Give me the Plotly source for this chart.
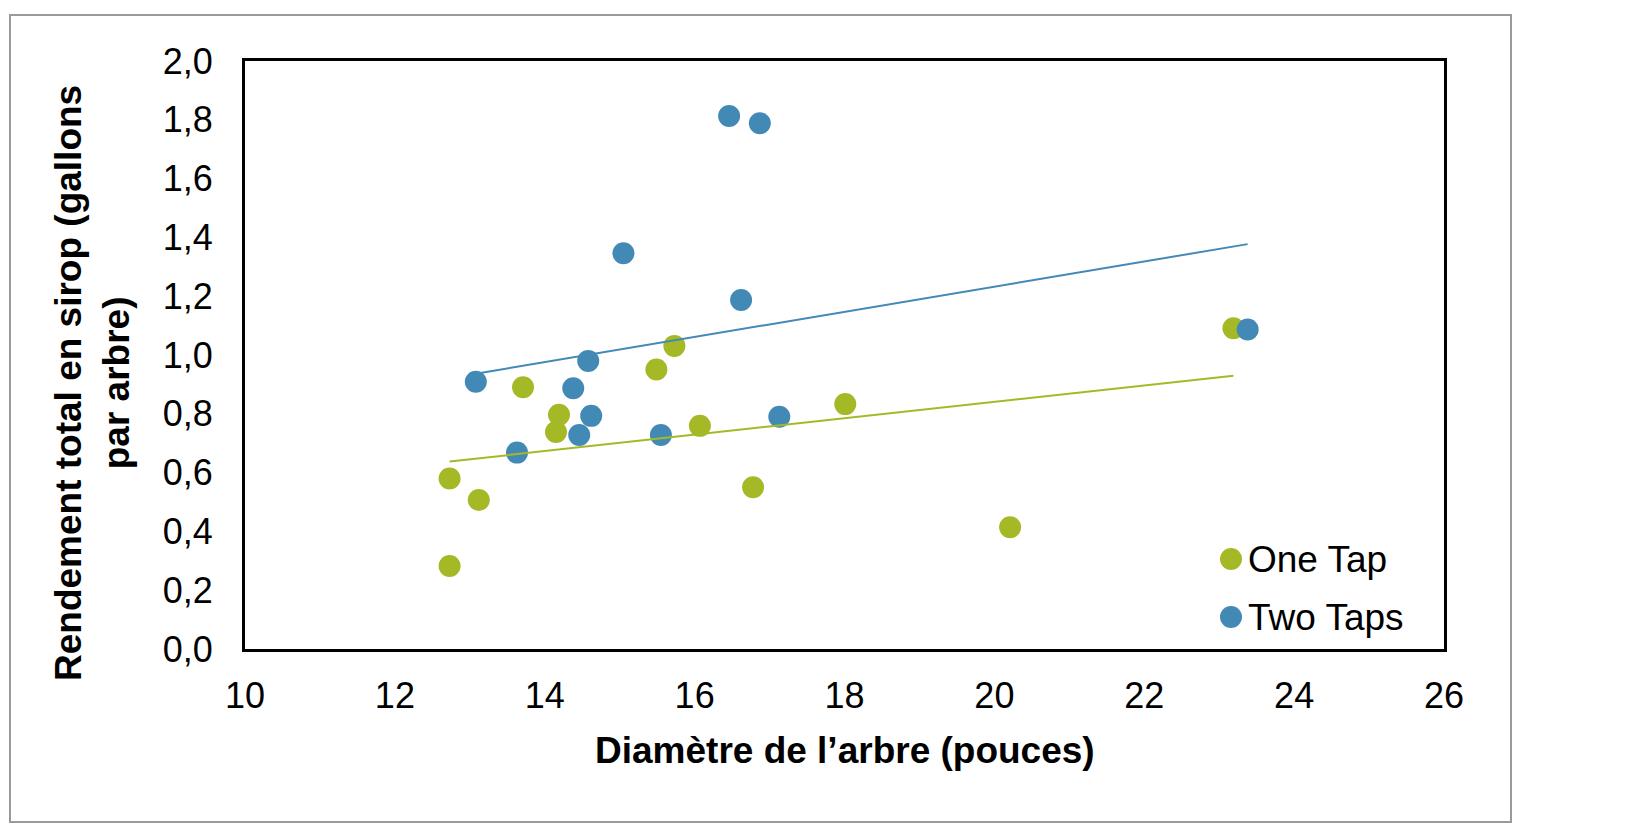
import numpy as np
import plotly.graph_objects as go

# ---- data ----
one_tap_diameter = [12.73, 12.73, 13.12, 13.71, 14.19, 14.15, 15.49, 15.73, 16.07, 16.78, 18.01, 20.21, 23.19]
one_tap_yield = [0.282, 0.580, 0.507, 0.890, 0.797, 0.738, 0.951, 1.031, 0.759, 0.550, 0.833, 0.414, 1.091]
two_taps_diameter = [13.08, 13.63, 14.38, 14.46, 14.58, 14.62, 15.05, 15.55, 16.46, 16.87, 16.62, 17.13, 23.38]
two_taps_yield = [0.909, 0.668, 0.887, 0.728, 0.980, 0.793, 1.346, 0.728, 1.813, 1.788, 1.187, 0.790, 1.087]

series_names = ["One Tap", "Two Taps"]
series_colors = ["#A5B927", "#4389B5"]
x_ticks = [10, 12, 14, 16, 18, 20, 22, 24, 26]
y_ticks = [0.0, 0.2, 0.4, 0.6, 0.8, 1.0, 1.2, 1.4, 1.6, 1.8, 2.0]

FONT = "Liberation Sans, Arial, sans-serif"

# page body has an 8px margin; figure sized to fit the window
OFF = 8
W, H = 1650 - OFF, 831 - OFF
# plot area in absolute screen pixels: x 245..1444, y 61..649
ML, MR, MT, MB = 245 - OFF, 1650 - 1444, 61 - OFF, 831 - 649
PW = W - ML - MR
PH = H - MT - MB


def px_to_paper_x(px):
    return (px - OFF - ML) / PW


def px_to_paper_y(py):
    return (H - MB - (py - OFF)) / PH


fig = go.Figure()

datasets = [(one_tap_diameter, one_tap_yield), (two_taps_diameter, two_taps_yield)]

for (xs, ys), name, col in zip(datasets, series_names, series_colors):
    fig.add_trace(go.Scatter(
        x=xs, y=ys, mode="markers", name=name,
        marker=dict(size=22, color=col, line=dict(width=0)),
        showlegend=False,
    ))

# linear trendlines (least squares) drawn on top
for (xs, ys), name, col in zip(datasets, series_names, series_colors):
    xa = np.array(xs)
    ya = np.array(ys)
    slope, intercept = np.polyfit(xa, ya, 1)
    xl = np.array([xa.min(), xa.max()])
    fig.add_trace(go.Scatter(
        x=xl, y=slope * xl + intercept, mode="lines",
        line=dict(color=col, width=2), showlegend=False, hoverinfo="skip",
        name=name + " trend",
    ))

shapes = [
    dict(type="rect", xref="paper", yref="paper",
         x0=px_to_paper_x(10), x1=px_to_paper_x(1511),
         y0=px_to_paper_y(822), y1=px_to_paper_y(15),
         line=dict(color="#9A9A9A", width=2), fillcolor="rgba(0,0,0,0)", layer="below"),
]

annotations = [
    dict(text="Diamètre de l’arbre (pouces)", xref="paper", yref="paper",
         x=0.5, y=px_to_paper_y(750), xanchor="center", yanchor="middle",
         showarrow=False, font=dict(family=FONT, size=37, color="black", weight="bold")),
    dict(text="Rendement total en sirop (gallons<br>par arbre)", xref="paper", yref="paper",
         x=px_to_paper_x(92), y=px_to_paper_y(383), xanchor="center", yanchor="middle",
         textangle=-90, showarrow=False, align="center",
         font=dict(family=FONT, size=37, color="black", weight="bold")),
]

# manual legend
legend_rows = [559, 617]
for name, col, ry in zip(series_names, series_colors, legend_rows):
    shapes.append(dict(type="circle", xref="paper", yref="paper",
                       xsizemode="pixel", ysizemode="pixel",
                       xanchor=px_to_paper_x(1231), yanchor=px_to_paper_y(ry),
                       x0=-11, x1=11, y0=-11, y1=11,
                       fillcolor=col, line=dict(width=0)))
    annotations.append(dict(text=name, xref="paper", yref="paper",
                            x=px_to_paper_x(1246), y=px_to_paper_y(ry),
                            xanchor="left", yanchor="middle", showarrow=False,
                            font=dict(family=FONT, size=37, color="black")))

fig.update_layout(
    width=W, height=H,
    margin=dict(l=ML, r=MR, t=MT, b=MB, pad=0),
    paper_bgcolor="white", plot_bgcolor="white",
    separators=", ",
    showlegend=False,
    shapes=shapes,
    annotations=annotations,
    font=dict(family=FONT, color="black"),
)

fig.update_xaxes(
    range=[10, 26], tickvals=x_ticks, ticktext=[str(v) for v in x_ticks],
    showgrid=False, zeroline=False,
    showline=True, linecolor="black", linewidth=3, mirror=True,
    ticks="", ticklabelstandoff=13,
    tickfont=dict(family=FONT, size=36, color="black"),
)
fig.update_yaxes(
    range=[0, 2], tickvals=y_ticks, ticktext=[f"{v:.1f}".replace(".", ",") for v in y_ticks],
    showgrid=False, zeroline=False,
    showline=True, linecolor="black", linewidth=3, mirror=True,
    ticks="", ticklabelstandoff=22,
    tickfont=dict(family=FONT, size=36, color="black"),
)

fig.write_html("out.html")
